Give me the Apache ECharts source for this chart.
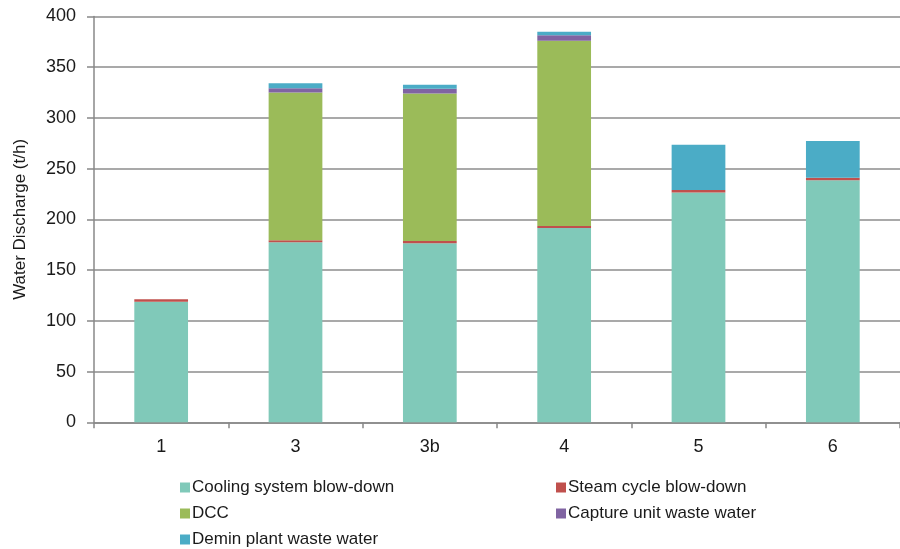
<!DOCTYPE html>
<html><head><meta charset="utf-8">
<script src="https://cdn.jsdelivr.net/npm/echarts@6/dist/echarts.min.js"></script>
<style>html,body{margin:0;padding:0;background:#fff}#c{width:900px;height:549px}</style>
</head><body><div id="c"></div>
<script>
const categories = ['1', '3', '3b', '4', '5', '6'];
const cooling = [118.8, 177.5, 176.6, 191.6, 226.5, 238.7];
const steam = [2.5, 2.0, 2.0, 2.0, 2.6, 2.3];
const dcc = [0, 145.7, 145.6, 182.4, 0, 0];
const capture = [0, 4.0, 4.7, 5.5, 0, 0];
const demin = [0, 4.9, 3.9, 3.4, 44.5, 36.2];
const yTicks = [0, 50, 100, 150, 200, 250, 300, 350, 400];

const font = 'Liberation Sans, Arial, sans-serif';
const names = ['Cooling system blow-down', 'Steam cycle blow-down', 'DCC', 'Capture unit waste water', 'Demin plant waste water'];
const colors = ['#80C9B9', '#C0504D', '#9BBB59', '#8064A2', '#4BACC6'];
const values = [cooling, steam, dcc, capture, demin];

const chart = echarts.init(document.getElementById('c'), null, {renderer: 'canvas'});
const legendCommon = {
  orient: 'vertical', itemWidth: 10, itemHeight: 10, itemGap: 9,
  icon: 'rect', padding: 0, height: 90,
  textStyle: {fontFamily: font, fontSize: 17, color: '#1a1a1a', padding: [0, 0, 0, -3]},
  selectedMode: false
};
chart.setOption({
  animation: false,
  color: colors,
  grid: {left: 94, right: -6, top: 16.5, bottom: 126.7, containLabel: false},
  legend: [
    Object.assign({}, legendCommon, {left: 180, top: 479, data: [names[0], names[2], names[4]]}),
    Object.assign({}, legendCommon, {left: 556, top: 479, data: [names[1], names[3]]})
  ],
  xAxis: {
    type: 'category', data: categories, boundaryGap: true,
    axisLine: {lineStyle: {color: '#888', width: 1.5}},
    axisTick: {show: true, length: 6, lineStyle: {color: '#888', width: 1.5}},
    axisLabel: {fontFamily: font, fontSize: 18, color: '#1a1a1a', margin: 16}
  },
  yAxis: {
    type: 'value', min: yTicks[0], max: yTicks[yTicks.length - 1], interval: yTicks[1] - yTicks[0],
    name: 'Water Discharge (t/h)', nameLocation: 'middle', nameGap: 65,
    nameTextStyle: {fontFamily: font, fontSize: 17, color: '#1a1a1a'},
    axisLine: {show: true, lineStyle: {color: '#888', width: 1.5}},
    axisTick: {show: true, length: 7, inside: false, lineStyle: {color: '#888', width: 1.5}},
    axisLabel: {fontFamily: font, fontSize: 18, color: '#1a1a1a', margin: 18},
    splitLine: {show: true, lineStyle: {color: '#8c8c8c', width: 1.5}}
  },
  series: names.map((n, i) => ({
    name: n, type: 'bar', stack: 'total', data: values[i],
    barCategoryGap: '60%',
    itemStyle: {color: colors[i]}
  }))
});
</script></body></html>
